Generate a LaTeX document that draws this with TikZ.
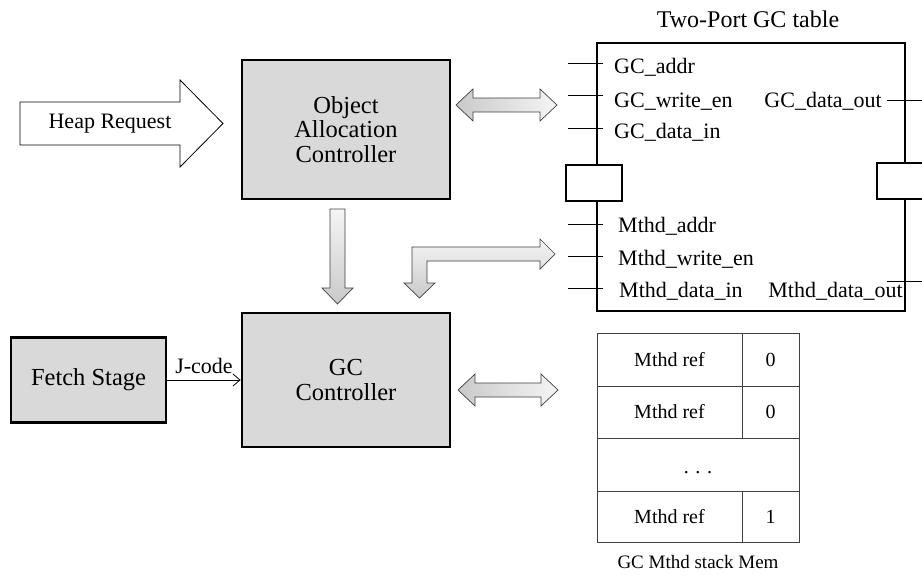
\documentclass[tikz,border=0pt]{standalone}
\usepackage{fontspec}
\setmainfont{Liberation Serif}
\usetikzlibrary{arrows.meta}
\definecolor{boxgray}{HTML}{D9D9D9}
\definecolor{cellline}{HTML}{404040}
\begin{document}
\begin{tikzpicture}[x=1pt,y=-1pt,
  box/.style={draw=black, line width=2.8pt, fill=boxgray, inner sep=0pt, align=center, font=\fontsize{24.5}{24.5}\selectfont},
  frame/.style={draw=black, line width=2.8pt, inner sep=0pt},
  portbox/.style={draw=black, line width=2.8pt, fill=white, inner sep=0pt, minimum width=56pt, minimum height=36pt},
  lbl/.style={inner sep=0pt, font=\fontsize{22}{24}\selectfont},
  pinline/.style={line width=0.8pt},
  cell/.style={draw=cellline, line width=0.9pt, inner sep=0pt, font=\fontsize{20}{22}\selectfont},
  blockarrow/.style={draw=black!75, line width=0.7pt},
  hshade/.style={left color=gray!42, right color=gray!8},
  vshade/.style={top color=gray!8, bottom color=gray!42}
]
\useasboundingbox (0,0) rectangle (922,574);
\clip (0,0) rectangle (922,574);

% main blocks
\node[box, minimum width=208pt, minimum height=139pt] (oac) at (346,129.5) {Object\\Allocation\\Controller};
\node[box, minimum width=208pt, minimum height=134pt] (gcc) at (346,380) {GC\\Controller};
\node[box, minimum width=155pt, minimum height=85pt] (fetch) at (88.5,380) {Fetch Stage};

% J-code connector
\draw[line width=0.8pt, -{Straight Barb[length=7pt,width=12pt]}] (fetch.east) -- (gcc.west)
  node[midway, above, lbl, yshift=6pt] (jcode) {J-code};

% Heap request arrow
\draw[draw=black, line width=0.8pt, fill=white] (20,102) -- (180,102) -- (180,80) -- (223,123.5) -- (180,167) -- (180,145) -- (20,145) -- cycle;
\node[lbl] (heap) at (110,124) {Heap Request};

% Two-port GC table
\node[frame, minimum width=308pt, minimum height=268pt] (tbl) at (751,177) {};
\node[inner sep=0pt, font=\fontsize{24}{26}\selectfont, anchor=base] (ttl) at (748,27) {Two-Port GC table};
\node[portbox] (portA) at (594,183) {};
\node[portbox] (portB) at (905,181) {};

% pins
\coordinate (p1) at (568,63);
\coordinate (p2) at (568,95);
\coordinate (p3) at (568,128);
\coordinate (p4) at (568,224);
\coordinate (p5) at (568,256);
\coordinate (p6) at (568,288);
\coordinate (q1) at (887,100);
\coordinate (q2) at (887,281);
\foreach \p in {p1,p2,p3,p4,p5,p6} \draw[pinline] (\p) -- ++(35,0);
\draw[pinline] (q1) -- ++(40,0);
\draw[pinline] (q2) -- ++(40,0);

\node[lbl, anchor=base west] (gcaddr) at (614,73) {GC\_addr};
\node[lbl, anchor=base west] (gcwe) at (614,107) {GC\_write\_en};
\node[lbl, anchor=base west] (gcdi) at (614,138) {GC\_data\_in};
\node[lbl, anchor=base east] (gcdo) at (882,107) {GC\_data\_out};
\node[lbl, anchor=base west] (maddr) at (618,232) {Mthd\_addr};
\node[lbl, anchor=base west] (mwe) at (618,265) {Mthd\_write\_en};
\node[lbl, anchor=base west] (mdi) at (619,297) {Mthd\_data\_in};
\node[lbl, anchor=base east] (mdo) at (903,297) {Mthd\_data\_out};

% stack memory
\node[cell, minimum width=145pt, minimum height=53pt] (r1a) at (669.5,359.5) {Mthd ref};
\node[cell, minimum width=57pt, minimum height=53pt] (r1b) at (770.5,359.5) {0};
\node[cell, minimum width=145pt, minimum height=52pt] (r2a) at (669.5,412) {Mthd ref};
\node[cell, minimum width=57pt, minimum height=52pt] (r2b) at (770.5,412) {0};
\node[cell, minimum width=202pt, minimum height=53pt] (r3) at (698,464.5) {};
\node[inner sep=0pt, font=\fontsize{20}{22}\selectfont, anchor=base] (dots) at (698,473) {.\,\,.\,\,.};
\node[cell, minimum width=145pt, minimum height=51pt] (r4a) at (669.5,516.5) {Mthd ref};
\node[cell, minimum width=57pt, minimum height=51pt] (r4b) at (770.5,516.5) {1};
\node[inner sep=0pt, font=\fontsize{19}{21}\selectfont, anchor=base] (cap) at (698,568) {GC Mthd stack Mem};

% block arrows
\path[blockarrow, hshade] (456,105) -- (473,89) -- (473,98) -- (540,98) -- (540,89) -- (557,105) -- (540,121) -- (540,112) -- (473,112) -- (473,121) -- cycle;
\path[blockarrow, hshade] (458,390) -- (475,374) -- (475,383) -- (541,383) -- (541,374) -- (558,390) -- (541,406) -- (541,397) -- (475,397) -- (475,406) -- cycle;
\path[blockarrow, vshade] (330,209) -- (345,209) -- (345,288) -- (353,288) -- (337.5,304) -- (322,288) -- (330,288) -- cycle;
\path[blockarrow, vshade] (412,247) -- (540,247) -- (540,239) -- (555,254) -- (540,269) -- (540,261) -- (427,261) -- (427,283) -- (435,283) -- (419.5,298) -- (404,283) -- (412,283) -- cycle;
\end{tikzpicture}
\end{document}
